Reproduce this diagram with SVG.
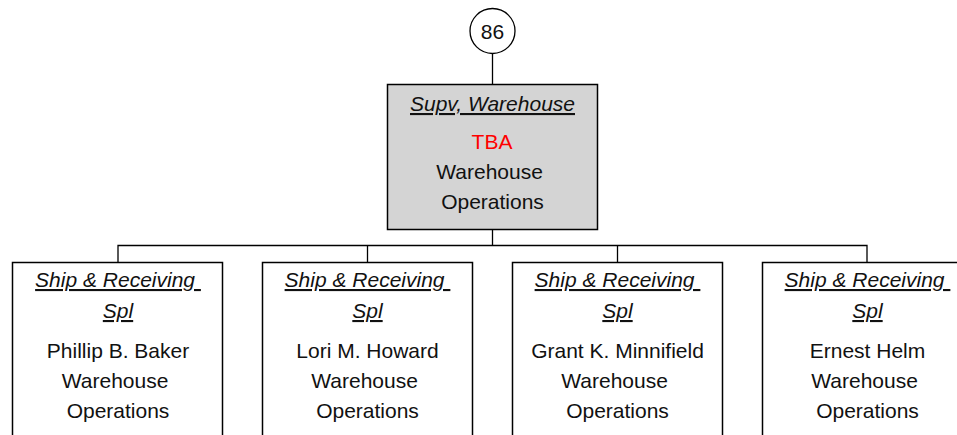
<svg xmlns="http://www.w3.org/2000/svg" width="957" height="435" viewBox="0 0 957 435">
<style>
.box{fill:#ffffff;stroke:#000000;stroke-width:1.5}
.main{fill:#d4d4d4;stroke:#000000;stroke-width:1.5}
.ln{fill:none;stroke:#000000;stroke-width:1.3}
text{font-family:"Liberation Sans",Arial,sans-serif;font-size:21px;fill:#111111;text-anchor:middle}
.t{font-style:italic;text-decoration:underline}
.red{fill:#ff0000}
</style>
<rect width="957" height="435" fill="#ffffff"/>
<g id="connectors">
<line class="ln" x1="492.5" y1="53" x2="492.5" y2="84.5"/>
<line class="ln" x1="492.5" y1="229.5" x2="492.5" y2="245.5"/>
<polyline class="ln" points="118,262.5 118,245.5 867,245.5 867,262.5"/>
<line class="ln" x1="367.5" y1="245.5" x2="367.5" y2="262.5"/>
<line class="ln" x1="617.5" y1="245.5" x2="617.5" y2="262.5"/>
</g>
<g id="ref86">
<circle cx="492.5" cy="31" r="22.5" fill="#ffffff" stroke="#000000" stroke-width="1.3"/>
<text x="492.5" y="38.5">86</text>
</g>
<g id="supv">
<rect class="main" x="387.5" y="84.5" width="210" height="145"/>
<text class="t" x="492.5" y="111">Supv, Warehouse</text>
<text class="red" x="492" y="149">TBA</text>
<text x="492.5" y="179" xml:space="preserve">Warehouse </text>
<text x="492.5" y="209">Operations</text>
</g>
<g id="baker">
<rect class="box" x="12.5" y="262.5" width="210" height="190"/>
<text class="t" x="118" y="287" xml:space="preserve">Ship &amp; Receiving </text>
<text class="t" x="118" y="318">Spl</text>
<text x="118" y="358">Phillip B. Baker</text>
<text x="118" y="388" xml:space="preserve">Warehouse </text>
<text x="118" y="418">Operations</text>
</g>
<g id="howard">
<rect class="box" x="262.5" y="262.5" width="210" height="190"/>
<text class="t" x="367.5" y="287" xml:space="preserve">Ship &amp; Receiving </text>
<text class="t" x="367.5" y="318">Spl</text>
<text x="367.5" y="358">Lori M. Howard</text>
<text x="367.5" y="388" xml:space="preserve">Warehouse </text>
<text x="367.5" y="418">Operations</text>
</g>
<g id="minnifield">
<rect class="box" x="512.5" y="262.5" width="210" height="190"/>
<text class="t" x="617.5" y="287" xml:space="preserve">Ship &amp; Receiving </text>
<text class="t" x="617.5" y="318">Spl</text>
<text x="617.5" y="358">Grant K. Minnifield</text>
<text x="617.5" y="388" xml:space="preserve">Warehouse </text>
<text x="617.5" y="418">Operations</text>
</g>
<g id="helm">
<rect class="box" x="762.5" y="262.5" width="210" height="190"/>
<text class="t" x="867.5" y="287" xml:space="preserve">Ship &amp; Receiving </text>
<text class="t" x="867.5" y="318">Spl</text>
<text x="867.5" y="358">Ernest Helm</text>
<text x="867.5" y="388" xml:space="preserve">Warehouse </text>
<text x="867.5" y="418">Operations</text>
</g>
</svg>
